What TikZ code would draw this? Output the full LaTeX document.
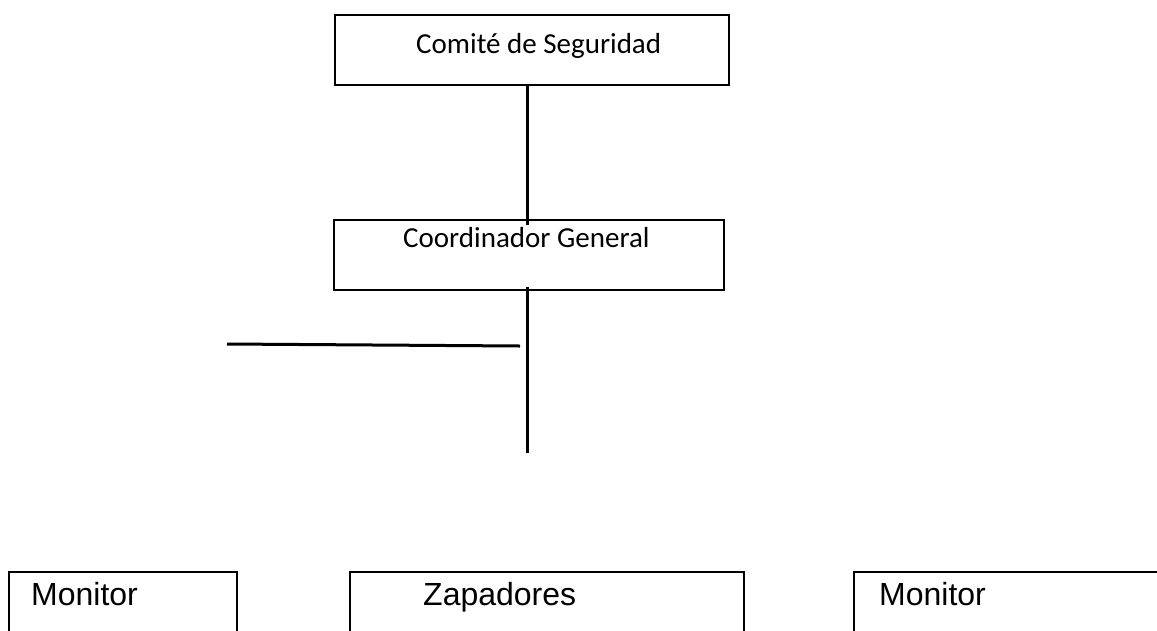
\documentclass[tikz,border=0pt]{standalone}
\usepackage{fontspec}
\setmainfont{Liberation Sans}
\newfontfamily\calibrifont{Carlito}
\begin{document}
\begin{tikzpicture}[x=1pt, y=-1pt,
    puesto/.style ={rectangle, draw, line width=1.5pt, inner sep=0pt, anchor=north west},
    rotulo/.style ={anchor=base west, inner sep=0pt, font=\fontsize{32}{38}\selectfont},
    enlace/.style ={line width=3pt}]
   \useasboundingbox (0,0) rectangle (1157,630);
   \node[puesto, minimum width=394pt, minimum height=70pt] (comite) at (334,14) {};
   \node[puesto, minimum width=390pt, minimum height=70pt] (coordinador) at (333,219) {};
   \node[puesto, minimum width=228pt, minimum height=100pt] (monitorA) at (8,571) {};
   \node[puesto, minimum width=394pt, minimum height=100pt] (zapadores) at (349,571) {};
   \node[puesto, minimum width=400pt, minimum height=100pt] (monitorB) at (853,571) {};
   \node[rotulo, font=\calibrifont\fontsize{29}{34}\selectfont] (comite-txt) at (416,53) {Comité de Seguridad};
   \node[rotulo, font=\calibrifont\fontsize{29}{34}\selectfont] (coordinador-txt) at (403,247) {Coordinador General};
   \node[rotulo] (monitorA-txt) at (31,605) {Monitor};
   \node[rotulo] (zapadores-txt) at (423,605) {Zapadores};
   \node[rotulo] (monitorB-txt) at (879,605) {Monitor};
   \coordinate (fin) at (527,453);
   \coordinate (rama-a) at (227,344);
   \coordinate (rama-b) at (520,346);
   \draw[enlace] (comite.south -| fin) -- ([yshift=-6pt]coordinador.north -| fin);
   \draw[enlace] ([yshift=4pt]coordinador.south -| fin) -- (fin);
   \draw[enlace] (rama-a) -- (rama-b);
\end{tikzpicture}
\end{document}
